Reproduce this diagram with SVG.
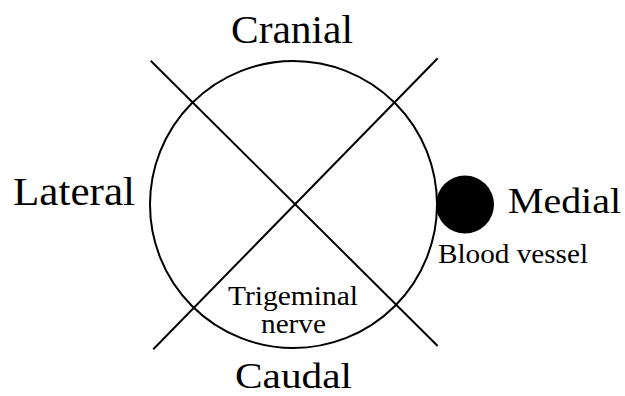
<svg xmlns="http://www.w3.org/2000/svg" width="625" height="396" viewBox="0 0 625 396">
<style>
.t{font-family:"Liberation Serif","Times New Roman",serif;fill:#000}
.l{stroke:#000;stroke-width:2;fill:none}
</style>
<rect width="625" height="396" fill="#fff"/>
<g id="nerve">
<circle class="l" cx="293.5" cy="204.5" r="143.5"/>
<text class="t" x="228" y="305" font-size="27" textLength="130" lengthAdjust="spacingAndGlyphs">Trigeminal</text>
<text class="t" x="261" y="333" font-size="27" textLength="65" lengthAdjust="spacingAndGlyphs">nerve</text>
</g>
<g id="connectors">
<line class="l" x1="150.7" y1="60.7" x2="437.7" y2="346"/>
<line class="l" x1="437.7" y1="58.3" x2="153.3" y2="349.3"/>
</g>
<g id="vessel">
<circle cx="465" cy="204.5" r="29" fill="#000"/>
<text class="t" x="438" y="263" font-size="27" textLength="150" lengthAdjust="spacingAndGlyphs">Blood vessel</text>
</g>
<g id="labels">
<text class="t" x="231" y="42.5" font-size="39" textLength="122" lengthAdjust="spacingAndGlyphs">Cranial</text>
<text class="t" x="13" y="205" font-size="39" textLength="122" lengthAdjust="spacingAndGlyphs">Lateral</text>
<text class="t" x="508" y="213" font-size="36" textLength="113" lengthAdjust="spacingAndGlyphs">Medial</text>
<text class="t" x="235" y="388" font-size="36" textLength="117" lengthAdjust="spacingAndGlyphs">Caudal</text>
</g>
</svg>
